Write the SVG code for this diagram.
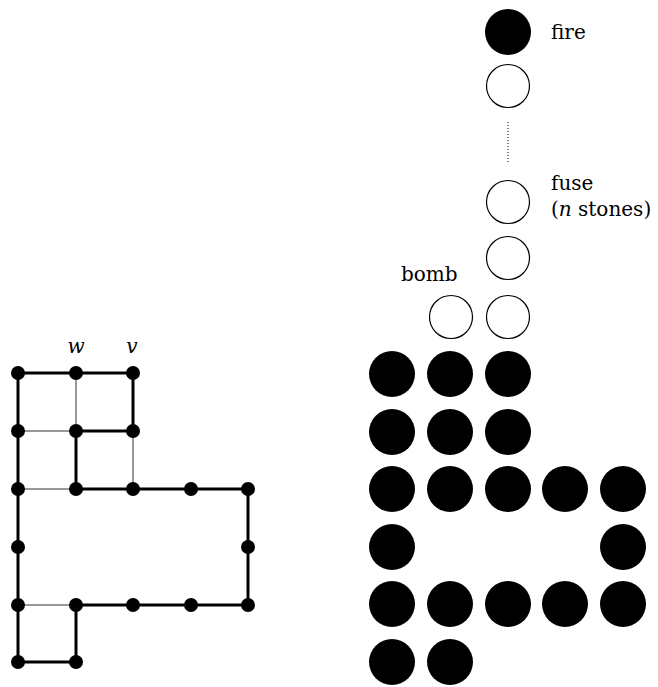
<svg xmlns="http://www.w3.org/2000/svg" width="658" height="687" viewBox="0 0 658 687">
<style>
.thick{stroke:#000;stroke-width:3;fill:none;stroke-linecap:round}
.thin{stroke:#333;stroke-width:1;fill:none}
.v{fill:#000}
.stone{fill:#000}
.empty{fill:#fff;stroke:#000;stroke-width:1.2}
.lbl{font-family:'DejaVu Serif',serif;font-size:20px;fill:#000}
.math{font-family:'DejaVu Serif',serif;font-style:italic;font-size:20px;fill:#000}
</style>
<rect width="658" height="687" fill="#fff"/>
<g id="graph-edges">
<path class="thin" d="M76,373V431 M18,431H76 M18,489H76 M133,431V489 M18,605H76"/>
<path class="thick" d="M133,431V373H18V662H76V605H248V489H76V431H133"/>
</g>
<g id="graph-nodes">
<g id="n-18-373"><circle class="v" cx="18" cy="373" r="7"/></g>
<g id="n-w"><circle class="v" cx="76" cy="373" r="7"/><text class="math" x="76" y="353" text-anchor="middle">w</text></g>
<g id="n-v"><circle class="v" cx="133" cy="373" r="7"/><text class="math" x="132" y="353" text-anchor="middle">v</text></g>
<g id="n-18-431"><circle class="v" cx="18" cy="431" r="7"/></g>
<g id="n-76-431"><circle class="v" cx="76" cy="431" r="7"/></g>
<g id="n-133-431"><circle class="v" cx="133" cy="431" r="7"/></g>
<g id="n-18-489"><circle class="v" cx="18" cy="489" r="7"/></g>
<g id="n-76-489"><circle class="v" cx="76" cy="489" r="7"/></g>
<g id="n-133-489"><circle class="v" cx="133" cy="489" r="7"/></g>
<g id="n-191-489"><circle class="v" cx="191" cy="489" r="7"/></g>
<g id="n-248-489"><circle class="v" cx="248" cy="489" r="7"/></g>
<g id="n-18-547"><circle class="v" cx="18" cy="547" r="7"/></g>
<g id="n-248-547"><circle class="v" cx="248" cy="547" r="7"/></g>
<g id="n-18-605"><circle class="v" cx="18" cy="605" r="7"/></g>
<g id="n-76-605"><circle class="v" cx="76" cy="605" r="7"/></g>
<g id="n-133-605"><circle class="v" cx="133" cy="605" r="7"/></g>
<g id="n-191-605"><circle class="v" cx="191" cy="605" r="7"/></g>
<g id="n-248-605"><circle class="v" cx="248" cy="605" r="7"/></g>
<g id="n-18-662"><circle class="v" cx="18" cy="662" r="7"/></g>
<g id="n-76-662"><circle class="v" cx="76" cy="662" r="7"/></g>
</g>
<g id="fuse-stack">
<g id="fire"><circle class="stone" cx="508" cy="32" r="23"/><text class="lbl" x="551" y="39">fire</text></g>
<g id="fuse1"><circle class="empty" cx="508" cy="86" r="21.5"/></g>
<line x1="508" y1="122" x2="508" y2="164" stroke="#000" stroke-width="1" stroke-dasharray="1 2"/>
<g id="fuse2"><circle class="empty" cx="508" cy="202" r="21.5"/><text class="lbl" x="551" y="190">fuse</text><text class="lbl" x="551" y="216">(<tspan font-style="italic">n</tspan> stones)</text></g>
<g id="fuse3"><circle class="empty" cx="508" cy="258" r="21.5"/></g>
<g id="fuse4"><circle class="empty" cx="508" cy="317" r="21.5"/></g>
<g id="bomb"><circle class="empty" cx="451" cy="317" r="21.5"/><text class="lbl" x="401" y="281">bomb</text></g>
</g>
<g id="stones">
<circle class="stone" cx="392" cy="374" r="23"/><circle class="stone" cx="450" cy="374" r="23"/><circle class="stone" cx="508" cy="374" r="23"/>
<circle class="stone" cx="392" cy="432" r="23"/><circle class="stone" cx="450" cy="432" r="23"/><circle class="stone" cx="508" cy="432" r="23"/>
<circle class="stone" cx="392" cy="489" r="23"/><circle class="stone" cx="450" cy="489" r="23"/><circle class="stone" cx="508" cy="489" r="23"/><circle class="stone" cx="565" cy="489" r="23"/><circle class="stone" cx="623" cy="489" r="23"/>
<circle class="stone" cx="392" cy="547" r="23"/><circle class="stone" cx="623" cy="547" r="23"/>
<circle class="stone" cx="392" cy="604" r="23"/><circle class="stone" cx="450" cy="604" r="23"/><circle class="stone" cx="508" cy="604" r="23"/><circle class="stone" cx="565" cy="604" r="23"/><circle class="stone" cx="623" cy="604" r="23"/>
<circle class="stone" cx="392" cy="662" r="23"/><circle class="stone" cx="450" cy="662" r="23"/>
</g>
</svg>
